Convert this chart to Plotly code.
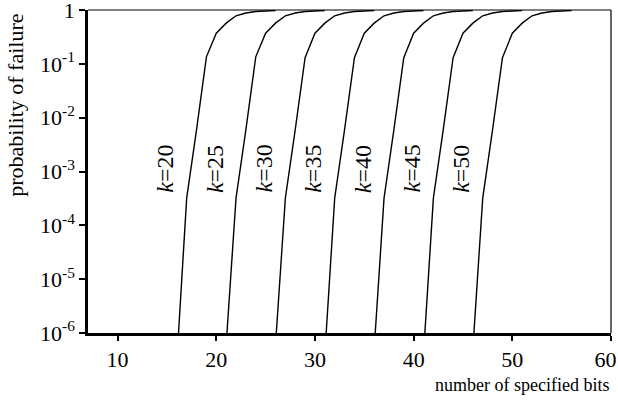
import plotly.graph_objects as go

# number of specified bits (x) and probability of failure (y) for each k
k_values = [20, 25, 30, 35, 40, 45, 50]

n_k20 = [16, 17, 18, 19, 20, 21, 22, 23, 24, 25, 26]
p_k20 = [3e-7, 3.2e-4, 6e-3, 0.135, 0.37, 0.57, 0.78, 0.88, 0.94, 0.97, 0.98]
n_k25 = [21, 22, 23, 24, 25, 26, 27, 28, 29, 30, 31]
p_k25 = [6e-7, 3.2e-4, 6e-3, 0.135, 0.37, 0.57, 0.78, 0.88, 0.94, 0.97, 0.98]
n_k30 = [26, 27, 28, 29, 30, 31, 32, 33, 34, 35, 36]
p_k30 = [6e-7, 3.2e-4, 6e-3, 0.13, 0.37, 0.57, 0.78, 0.88, 0.94, 0.97, 0.98]
n_k35 = [31, 32, 33, 34, 35, 36, 37, 38, 39, 40, 41]
p_k35 = [4e-7, 3.2e-4, 6e-3, 0.13, 0.37, 0.57, 0.78, 0.88, 0.94, 0.97, 0.98]
n_k40 = [36, 37, 38, 39, 40, 41, 42, 43, 44, 45, 46]
p_k40 = [5e-7, 3.2e-4, 6e-3, 0.13, 0.37, 0.57, 0.78, 0.88, 0.94, 0.97, 0.98]
n_k45 = [41, 42, 43, 44, 45, 46, 47, 48, 49, 50, 51]
p_k45 = [4e-7, 3.2e-4, 6e-3, 0.13, 0.37, 0.57, 0.78, 0.88, 0.94, 0.97, 0.98]
n_k50 = [46, 47, 48, 49, 50, 51, 52, 53, 54, 55, 56]
p_k50 = [5e-7, 3.2e-4, 6e-3, 0.13, 0.37, 0.57, 0.78, 0.88, 0.94, 0.97, 0.98]

series = [(n_k20, p_k20), (n_k25, p_k25), (n_k30, p_k30), (n_k35, p_k35),
          (n_k40, p_k40), (n_k45, p_k45), (n_k50, p_k50)]

# label positions (x in data units, log10 of y)
label_x = [14.8, 19.8, 24.8, 29.8, 34.8, 39.8, 44.8]
label_logy = [-2.95, -2.95, -2.95, -2.95, -2.95, -2.95, -2.95]

x_tick_vals = [10, 20, 30, 40, 50, 60]
x_tick_text = ["10", "20", "30", "40", "50", "60\u00a0\u00a0"]
y_tick_vals = [1e-6, 1e-5, 1e-4, 1e-3, 1e-2, 1e-1, 1]
y_tick_text = ["10<sup>-6</sup>", "10<sup>-5</sup>", "10<sup>-4</sup>", "10<sup>-3</sup>",
               "10<sup>-2</sup>", "10<sup>-1</sup>", "1"]

FONT = "Liberation Serif"

fig = go.Figure()
for (xs, ys) in series:
    fig.add_trace(go.Scatter(x=xs, y=ys, mode="lines",
                             line=dict(color="black", width=1.4),
                             showlegend=False, hoverinfo="skip"))

for k, lx, ly in zip(k_values, label_x, label_logy):
    fig.add_annotation(x=lx, y=ly, xref="x", yref="y", text=f"<i>k</i>={k}",
                       textangle=-90, showarrow=False, xanchor="center", yanchor="middle",
                       font=dict(family=FONT, size=24, color="black"))

# y title and x title
fig.add_annotation(x=-0.138, y=0.706, xref="paper", yref="paper",
                   text="probability of failure", textangle=-90, showarrow=False,
                   xanchor="center", yanchor="middle",
                   font=dict(family=FONT, size=22, color="black"))
fig.add_annotation(x=1.0, y=-0.161, xref="paper", yref="paper", xanchor="right",
                   yanchor="middle", text="number of specified bits", showarrow=False,
                   font=dict(family=FONT, size=18, color="black"))

# frame: top gray line and right thin black line
fig.add_shape(type="line", xref="paper", yref="paper", x0=0, x1=1, y0=1, y1=1,
              line=dict(color="#555555", width=1.5), layer="below")
fig.add_shape(type="line", xref="paper", yref="paper", x0=1, x1=1, y0=0, y1=1,
              line=dict(color="black", width=1.2))

fig.update_xaxes(range=[7, 60], tickvals=x_tick_vals, ticktext=x_tick_text,
                 ticks="outside", ticklen=5,
                 tickwidth=2, tickcolor="black", showline=True, linecolor="black",
                 linewidth=2.5, showgrid=False, zeroline=False, automargin=False,
                 ticklabeloverflow="allow",
                 tickfont=dict(family=FONT, size=22, color="black"))
fig.update_yaxes(type="log", range=[-6, 0], tickvals=y_tick_vals, ticktext=y_tick_text,
                 ticks="outside", ticklen=6, tickwidth=2, tickcolor="black",
                 showline=True, linecolor="black", linewidth=2.5, showgrid=False,
                 zeroline=False, automargin=False, ticklabeloverflow="allow",
                 tickfont=dict(family=FONT, size=22, color="black"))

fig.update_layout(width=618, height=405, margin=dict(l=88, r=7, t=10, b=72),
                  paper_bgcolor="white", plot_bgcolor="white",
                  font=dict(family=FONT, color="black"))

fig.write_html("out.html", config={"displayModeBar": False},
               post_script="document.body.style.margin='0px';")
